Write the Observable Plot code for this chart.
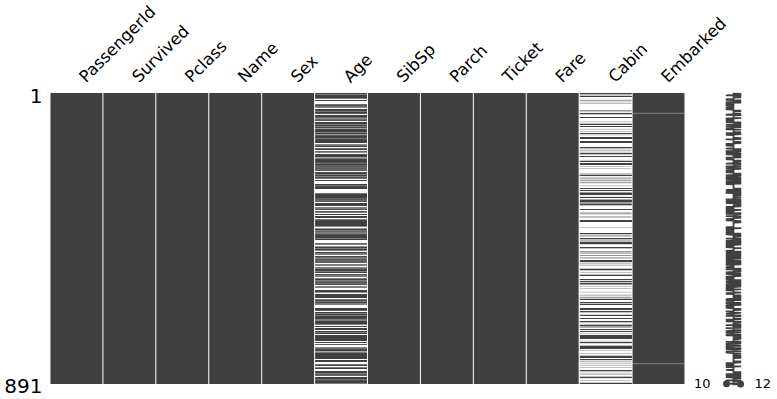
<!DOCTYPE html>
<html><head><meta charset="utf-8">
<script src="https://cdn.jsdelivr.net/npm/d3@7"></script>
<script src="https://cdn.jsdelivr.net/npm/@observablehq/plot@0.6"></script>
<style>
body{margin:0;background:#fff}
#wrap{position:relative;width:777px;height:399px}
#wrap svg{position:absolute;left:0;top:0}
</style>
</head><body><div id="wrap"></div>
<script>
const columns = ["PassengerId","Survived","Pclass","Name","Sex","Age","SibSp","Parch","Ticket","Fare","Cabin","Embarked"];
const nRows = 891;
const rowLabels = [1, 891];
const ageMissing = [6,18,20,27,29,30,32,33,37,43,46,47,48,49,56,65,66,77,78,83,88,96,102,108,110,122,127,129,141,155,159,160,167,169,177,181,182,186,187,197,199,202,215,224,230,236,241,242,251,257,261,265,271,275,278,285,296,299,301,302,305,307,325,331,335,336,348,352,355,359,360,365,368,369,376,385,389,410,411,412,414,416,421,426,429,432,445,452,455,458,460,465,467,469,471,476,482,486,491,496,498,503,508,512,518,523,525,528,532,534,539,548,553,558,561,564,565,569,574,579,585,590,594,597,599,602,603,612,613,614,630,634,640,644,649,651,654,657,668,670,675,681,693,698,710,712,719,728,733,739,740,741,761,767,769,774,777,779,784,791,793,794,816,826,827,829,833,838,840,847,850,860,864,869,879,889];
const cabinPresent = [2,4,7,11,12,22,24,28,32,53,55,56,62,63,67,76,89,93,97,98,103,111,119,124,125,129,137,138,140,149,152,167,171,175,178,184,186,188,194,195,196,206,210,216,219,225,231,246,249,252,253,258,263,264,269,270,274,276,285,292,293,298,299,300,304,306,307,308,310,311,312,319,320,326,328,330,332,333,335,337,338,340,341,342,346,357,367,370,371,378,381,391,394,395,413,430,431,435,436,439,446,450,453,454,457,458,461,463,474,476,485,487,488,493,497,499,505,506,513,516,517,521,524,528,537,540,541,545,551,557,558,559,572,573,578,582,584,586,588,592,600,610,619,622,626,628,631,633,642,646,648,660,663,670,672,680,682,690,691,699,700,701,702,708,711,712,713,716,717,718,725,731,738,742,743,746,749,752,760,764,766,773,777,780,782,783,790,797,803,807,810,816,821,824,830,836,840,850,854,858,863,868,872,873,880,888,890];
const embarkedMissing = [62, 830];

const DARK = "#404040";
const rows = d3.range(1, nRows + 1);
const missing = new Map(columns.map(c => [c, new Set()]));
ageMissing.forEach(r => missing.get("Age").add(r));
const cabinSet = new Set(cabinPresent);
rows.forEach(r => { if (!cabinSet.has(r)) missing.get("Cabin").add(r); });
embarkedMissing.forEach(r => missing.get("Embarked").add(r));

const bg = columns.map(c => ({col: c, mostlyMissing: missing.get(c).size > nRows / 2}));
const strips = [];
for (const {col, mostlyMissing} of bg) {
  for (const r of rows) {
    const isMissing = missing.get(col).has(r);
    if (isMissing !== mostlyMissing) strips.push({col, row: r, missing: isMissing});
  }
}
const completeness = rows.map(r => ({row: r, value: columns.filter(c => !missing.get(c).has(r)).length}));
const minC = d3.min(completeness, d => d.value);
const maxC = d3.max(completeness, d => d.value);
const lastMin = completeness.filter(d => d.value === minC).pop();
const lastMax = completeness.filter(d => d.value === maxC).pop();
const extremes = [lastMin, lastMax];

const stripFill = d => d.missing ? "white" : DARK;

const matrix = Plot.plot({
  width: 777, height: 399,
  marginLeft: 50, marginRight: 92, marginTop: 93, marginBottom: 15,
  x: {type: "band", domain: columns, padding: 0, round: false, axis: null},
  y: {domain: [0, nRows], reverse: true, axis: null},
  color: {type: "identity"},
  style: {fontFamily: "DejaVu Sans", background: "white"},
  marks: [
    Plot.barY(bg, {x: "col", y1: 0, y2: nRows, fill: d => d.mostlyMissing ? "white" : DARK, insetLeft: 0.5, insetRight: 0.5}),
    // soft (antialiased) layer, then nearest-sampled crisp layer on top
    Plot.barY(strips, {x: "col", y1: d => d.row - 1, y2: d => d.row, fill: stripFill,
      insetLeft: 0.5, insetRight: 0.5}),
    Plot.barY(strips, {x: "col", y1: d => d.row - 1, y2: d => d.row, fill: stripFill,
      insetLeft: 0.5, insetRight: 0.5, shapeRendering: "crispEdges"}),
    Plot.text(columns, {x: d => d, y: 0, text: d => d, rotate: -45, textAnchor: "start", lineAnchor: "bottom",
      dx: 9, dy: -10, fontSize: 16.5, fill: "black"}),
    Plot.text(rowLabels, {y: d => d - 0.5, text: d => String(d), frameAnchor: "left", textAnchor: "end",
      lineAnchor: "middle", dx: -8, dy: 2.5, fontSize: 20, fill: "black"})
  ]
});

const spark = Plot.plot({
  width: 777, height: 399,
  marginLeft: 712, marginRight: 23, marginTop: 93, marginBottom: 15,
  x: {domain: [minC - 2, maxC + 2], axis: null},
  y: {domain: [0, nRows], reverse: true, axis: null},
  style: {fontFamily: "DejaVu Sans", background: "transparent", overflow: "visible"},
  marks: [
    Plot.line(completeness, {x: "value", y: d => d.row - 0.5, stroke: DARK, strokeWidth: 1.8}),
    Plot.dot(extremes, {x: "value", y: d => d.row - 0.5, r: 3.5, fill: DARK}),
    Plot.text([lastMin], {x: d => d.value - 2, y: d => d.row - 0.5, text: d => String(d.value),
      textAnchor: "end", lineAnchor: "middle", dx: -2, fontSize: 13, fill: "black"}),
    Plot.text([lastMax], {x: d => d.value + 2, y: d => d.row - 0.5, text: d => String(d.value),
      textAnchor: "start", lineAnchor: "middle", fontSize: 13, fill: "black"})
  ]
});

document.getElementById("wrap").append(matrix, spark);
</script>
</body></html>
